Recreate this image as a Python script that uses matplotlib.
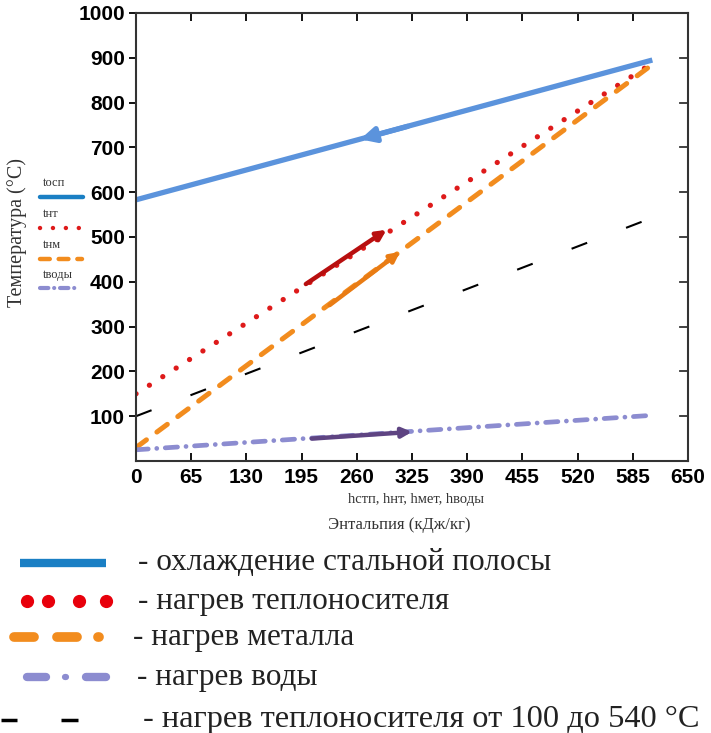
import matplotlib.pyplot as plt
from matplotlib.lines import Line2D

# --- data ---
h_ends = [0, 608]                 # enthalpy, kJ/kg
t_strip = [583, 895]              # охлаждение стальной полосы
t_carrier = [150, 888]            # нагрев теплоносителя
t_metal = [30, 885]               # нагрев металла
t_water = [25, 102]               # нагрев воды
t_carrier_100_540 = [100, 543]    # нагрев теплоносителя от 100 до 540

# direction arrows: (h_start, t_start, h_end, t_end)
arrow_strip = (320, 747, 264, 718)
arrow_carrier = (200, 395, 295, 516)
arrow_metal = (228, 348, 311, 467)
arrow_water = (207, 50, 325, 65)

x_ticks = [0, 65, 130, 195, 260, 325, 390, 455, 520, 585, 650]
y_ticks = [100, 200, 300, 400, 500, 600, 700, 800, 900, 1000]

legend_labels = [
    "- охлаждение стальной полосы",
    "- нагрев теплоносителя",
    "- нагрев металла",
    "- нагрев воды",
    "- нагрев теплоносителя от 100 до 540 °С",
]
side_labels = ["tосп", "tнт", "tнм", "tводы"]

BLUE = "#5b93dc"
RED = "#de1a1a"
ORANGE = "#f28c1e"
PURPLE = "#8c8cd0"

W, H = 711, 733
fig = plt.figure(figsize=(W / 100, H / 100), dpi=100)
ax = fig.add_axes([136 / W, 1 - 461 / H, 552 / W, 448 / H])

ax.plot(h_ends, t_strip, color=BLUE, lw=3.8, solid_capstyle="butt")
ax.plot(h_ends, t_carrier, color=RED, lw=3.8, linestyle=(0, (0.01, 3.0)),
        dash_capstyle="round")
ax.plot(h_ends, t_metal, color=ORANGE, lw=3.6, linestyle=(0, (2.6, 2.6)),
        dash_capstyle="round")
ax.plot(h_ends, t_water, color=PURPLE, lw=3.4,
        linestyle=(0, (2.6, 1.8, 0.01, 1.8)), dash_capstyle="round")
ax.plot(h_ends, t_carrier_100_540, color="black", lw=1.5,
        linestyle=(0, (8, 20)))


def arrow(a, color, lw=3.2, head=14):
    ax.annotate("", xy=(a[2], a[3]), xytext=(a[0], a[1]),
                arrowprops=dict(arrowstyle="-|>", color=color, lw=lw,
                                mutation_scale=head, shrinkA=0, shrinkB=0))


arrow(arrow_strip, BLUE, lw=3.8, head=22)
arrow(arrow_carrier, "#b80f0f")
arrow(arrow_metal, "#e97c14")
arrow(arrow_water, "#5e4482")

ax.set_xlim(0, 650)
ax.set_ylim(0, 1000)
ax.set_xticks(x_ticks)
ax.set_yticks(y_ticks)
for lab in ax.get_xticklabels() + ax.get_yticklabels():
    lab.set_fontfamily("Liberation Sans")
    lab.set_fontweight("bold")
    lab.set_fontsize(15)
ax.tick_params(axis="x", direction="in", top=True, length=6, width=1.3, pad=5)
ax.tick_params(axis="y", direction="out", right=False, length=5, width=1.3, pad=3)
for y in y_ticks[:-1]:
    ax.plot([640, 650], [y, y], color="#333333", lw=1.3, clip_on=False)
for s in ax.spines.values():
    s.set_linewidth(1.5)
    s.set_color("#333333")

serif = "Liberation Serif"
fig.text(17 / W, 1 - 232 / H, "Температура (°C)", rotation=90, ha="center",
         va="center", family=serif, fontsize=14.5, color="#333333")
fig.text(416 / W, 1 - 500 / H, "hстп, hнт, hмет, hводы", ha="center",
         va="center", family=serif, fontsize=10.5, color="#333333")
fig.text(399 / W, 1 - 525 / H, "Энтальпия (кДж/кг)", ha="center",
         va="center", family=serif, fontsize=12, color="#333333")

# small legend to the left of the axes
side_y = [183, 214, 245, 275]
for lab, y in zip(side_labels, side_y):
    fig.text(43 / W, 1 - y / H, lab, ha="left", va="center", family=serif,
             fontsize=9, color="#333333")


def fline(x0, x1, y, **kw):
    fig.add_artist(Line2D([x0 / W, x1 / W], [1 - y / H, 1 - y / H], **kw))


fline(40, 83, 197, color="#1a7fc4", lw=3.2, solid_capstyle="round")
fline(40, 82, 228, color=RED, lw=3.2, linestyle=(0, (0.01, 2.9)),
      dash_capstyle="round")
fline(40, 82, 259, color=ORANGE, lw=3.2, linestyle=(0, (2.2, 2.0)),
      dash_capstyle="round")
fline(40, 80, 288, color=PURPLE, lw=3.0, linestyle=(0, (2.0, 1.4, 0.01, 1.4)),
      dash_capstyle="round")

# bottom legend
rows = [563, 601, 637, 677, 720]
fline(20, 106, rows[0], color="#1a7fc4", lw=6, solid_capstyle="butt")
for x in [27, 48, 79, 106]:
    fig.add_artist(Line2D([x / W], [1 - rows[1] / H], marker="o", ms=8.5,
                          color="#e8000b", lw=0))
for x0, x1 in [(14, 34), (57, 77), (98, 98.5)]:
    fline(x0, x1, rows[2], color=ORANGE, lw=7, solid_capstyle="round")
for x0, x1 in [(27, 46), (65, 65.5), (86, 106)]:
    fline(x0, x1, rows[3], color=PURPLE, lw=6 if x1 - x0 > 1 else 4.5,
          solid_capstyle="round")
for x0, x1 in [(1, 17), (61, 78)]:
    fline(x0, x1, rows[4], color="black", lw=2.5, solid_capstyle="butt")

text_x = [138, 138, 133, 137, 143]
text_size = [22.5, 22.5, 22.5, 22.5, 23.3]
for lab, x, y, fs in zip(legend_labels, text_x, rows, text_size):
    fig.text(x / W, 1 - y / H, lab, ha="left", va="center", family=serif,
             fontsize=fs, color="#222222")

fig.savefig("out.png", dpi=100)
